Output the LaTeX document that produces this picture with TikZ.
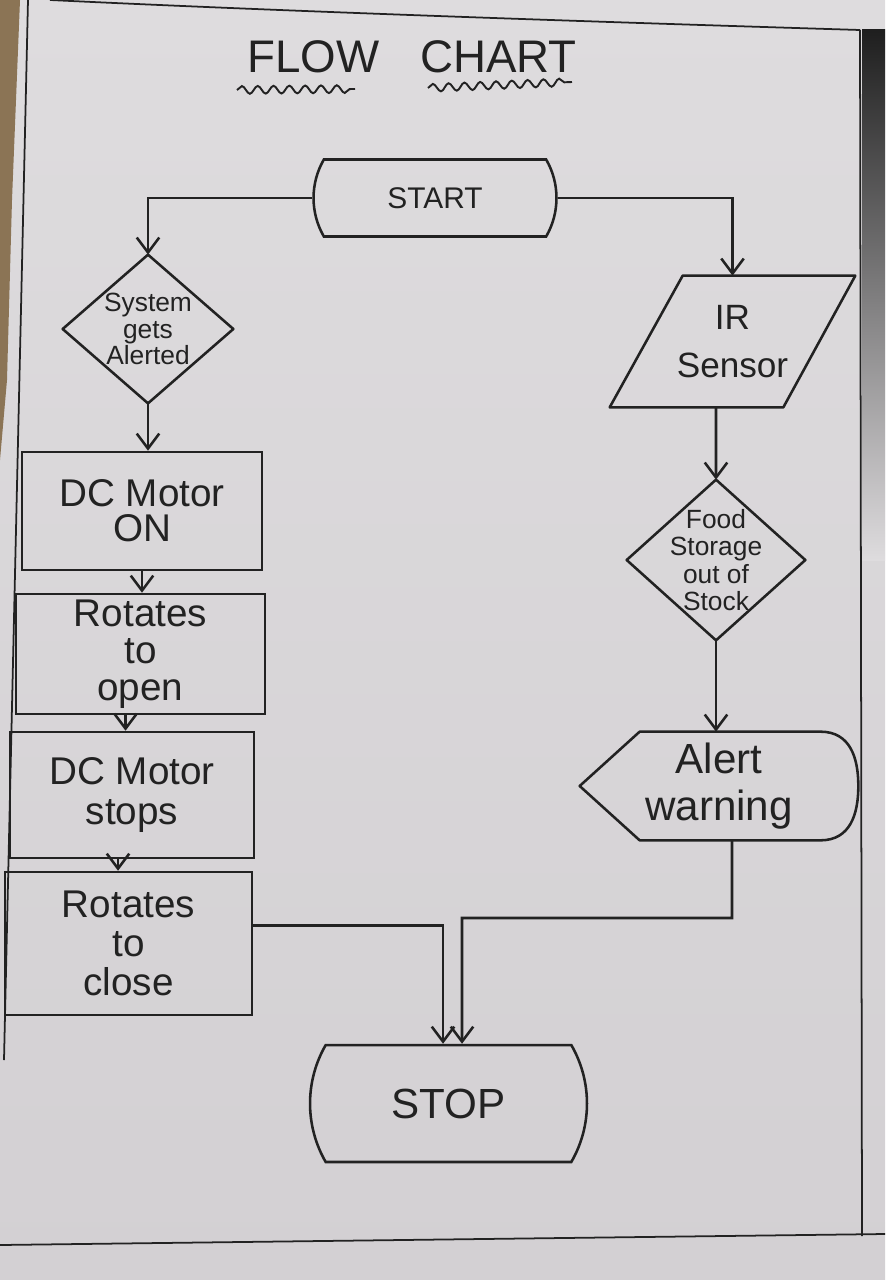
\documentclass[tikz,border=0pt]{standalone}
\usepackage{fontspec}
\setmainfont{Liberation Sans}
\usetikzlibrary{arrows.meta,decorations.pathmorphing,shapes.misc,calc}
\definecolor{inkc}{HTML}{222222}
\definecolor{paper}{HTML}{DEDCDE}
\definecolor{paperlow}{HTML}{D3D0D3}
\definecolor{wood}{HTML}{8B7455}
\tikzset{
  ink/.style={draw=inkc, line width=1.45pt, line join=round},
  arr/.style={draw=inkc, line width=1.45pt, -{Straight Barb[length=3mm,width=4.5mm]}},
  txt/.style={text=inkc, align=center, inner sep=0pt},
  procbox/.style={txt, draw=inkc, line width=1.45pt, rectangle, font=\fontsize{22}{21}\selectfont},
  termbox/.style={txt, draw=inkc, line width=1.45pt, rounded rectangle, rounded rectangle arc length=60},
  plainbox/.style={txt, rectangle, draw=none},
  wavy/.style={draw=inkc, line width=1.1pt, decorate, decoration={snake, amplitude=2.2pt, segment length=9pt}},
}
\begin{document}
\begin{tikzpicture}[x=0.02cm,y=-0.02cm]
\useasboundingbox (0,0) rectangle (885,1280);
% paper background
\shade[top color=paper, bottom color=paperlow] (0,0) rectangle (885,1280);
\fill[wood] (0,0) -- (20,0) -- (12,200) -- (7,380) -- (0,460) -- cycle;
\shade[top color=black!88, bottom color=paper] (862,30) rectangle (885,560);
% paper frame lines
\draw[inkc, line width=1pt] (50,0) .. controls (300,12) and (600,22) .. (860,30);
\draw[inkc, line width=1pt] (860,30) -- (862,1236);
\draw[inkc, line width=1pt] (28,0) -- (4,1060);
\draw[inkc, line width=1pt] (0,1245) -- (885,1234);

% title
\node[txt, font=\fontsize{26}{26}\selectfont] (title) at (412,57) {FLOW\hspace{0.9em}CHART};
\draw[wavy] (237,90) -- (355,89);
\draw[wavy] (428,88) -- (572,82);

% nodes
\node[termbox, minimum width=4.86cm, minimum height=1.54cm, font=\fontsize{17}{17}\selectfont] (start) at (435,198) {START};

\node[plainbox, minimum width=3.4cm, minimum height=2.96cm, font=\fontsize{15}{15}\selectfont] (d1) at (148,329) {System\\gets\\Alerted};
\draw[ink] (d1.north) -- (d1.east) -- (d1.south) -- (d1.west) -- cycle;

\node[procbox, minimum width=4.8cm, minimum height=2.36cm, font=\fontsize{22}{20}\selectfont] (b1) at (142,511) {DC Motor\\ON};
\node[procbox, minimum width=4.98cm, minimum height=2.4cm] (b2) at (140.5,654) {Rotates\\to\\open};
\node[procbox, minimum width=4.88cm, minimum height=2.52cm, font=\fontsize{22}{23}\selectfont] (b3) at (132,795) {DC Motor\\stops};
\node[procbox, minimum width=4.94cm, minimum height=2.86cm, font=\fontsize{22}{22}\selectfont] (b4) at (128.5,943.5) {Rotates\\to\\close};

\node[plainbox, minimum width=4.9cm, minimum height=2.62cm, font=\fontsize{20}{27}\selectfont] (ir) at (732.5,341.5) {IR\\Sensor};
\draw[ink] ($(ir.north west)+(73,0)$) -- (ir.north east) -- ($(ir.south east)+(-72,0)$) -- (ir.south west) -- cycle;

\node[plainbox, minimum width=3.56cm, minimum height=3.2cm, font=\fontsize{15}{15.5}\selectfont] (d2) at (716,560) {Food\\Storage\\out of\\Stock};
\draw[ink] (d2.north) -- (d2.east) -- (d2.south) -- (d2.west) -- cycle;

\node[plainbox, minimum width=5.56cm, minimum height=2.16cm, font=\fontsize{24}{27}\selectfont] (aw) at (719,786) {Alert\\warning};
\draw[ink] (aw.west) -- ($(aw.north west)+(60,0)$) -- ($(aw.north east)+(-38,0)$)
  .. controls ($(aw.north east)+(-8,0)$) and ($(aw.east)+(0,-28)$) .. (aw.east)
  .. controls ($(aw.east)+(0,28)$) and ($(aw.south east)+(-8,0)$) .. ($(aw.south east)+(-38,0)$)
  -- ($(aw.south west)+(60,0)$) -- cycle;

\node[termbox, minimum width=5.54cm, minimum height=2.34cm, font=\fontsize{24}{24}\selectfont] (stop) at (448.5,1103.5) {STOP};

% connectors
\coordinate (m2) at (462,918);
\draw[arr] (start.west) -| (d1.north);
\draw[arr] (start.east) -| (ir.north);
\draw[arr] (d1.south) -- (d1.south |- b1.north);
\draw[arr] (b1.south) -- (b1.south |- b2.north);
\draw[arr] ([xshift=-0.3cm]b2.south) -- ([xshift=-0.3cm]b2.south |- b3.north);
\draw[arr] ([xshift=-0.28cm]b3.south) -- ([xshift=-0.28cm]b3.south |- b4.north);
\draw[arr] ([xshift=-0.33cm]ir.south) -- (d2.north);
\draw[arr] (d2.south) -- (d2.south |- aw.north);
\draw[arr] ([xshift=0.26cm]aw.south) |- (m2) -- ([xshift=0.27cm]stop.north);
\draw[arr] ([yshift=0.36cm]b4.east) -| ([xshift=-0.11cm]stop.north);
\end{tikzpicture}
\end{document}
